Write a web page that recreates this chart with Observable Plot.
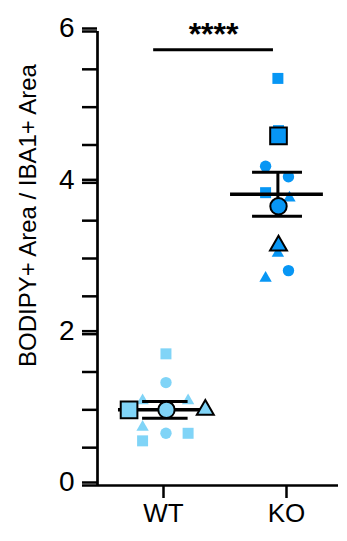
<!DOCTYPE html>
<html>
<head>
<meta charset="utf-8">
<script src="https://cdn.jsdelivr.net/npm/d3@7"></script>
<script src="https://cdn.jsdelivr.net/npm/@observablehq/plot@0.6"></script>
<style>
  html, body { margin: 0; padding: 0; background: #fff; }
  #chart svg { display: block; }
</style>
</head>
<body>
<div id="chart"></div>
<script>
// ---- data ----
const groups = ["WT", "KO"];
const yLabel = "BODIPY+ Area / IBA1+ Area";
const yMajorTicks = [0, 2, 4, 6];
const yMinorTicks = [0, 0.5, 1, 1.5, 2, 2.5, 3, 3.5, 4, 4.5, 5, 5.5, 6];

// individual (technical) replicates
const repGroup  = ["WT","WT","WT","WT","WT","WT","WT","WT",
                   "KO","KO","KO","KO","KO","KO","KO","KO","KO"];
const repShape  = ["square","circle","triangle","triangle","triangle","square","circle","square",
                   "square","square","circle","circle","square","triangle","triangle","circle","triangle"];
const repValue  = [1.74, 1.36, 1.12, 1.12, 0.77, 0.59, 0.69, 0.69,
                   5.38, 4.69, 4.22, 4.08, 3.87, 3.80, 3.07, 2.84, 2.74];
const repJitter = [0.02, 0.02, -0.17, 0.20, -0.17, -0.17, 0.02, 0.20,
                   -0.07, -0.065, -0.17, 0.016, -0.17, 0.024, -0.07, 0.016, -0.17];

// per-animal means
const meanGroup  = ["WT","WT","WT","KO","KO","KO"];
const meanShape  = ["square","circle","triangle","square","circle","triangle"];
const meanValue  = [1.0, 1.0, 1.0, 4.62, 3.69, 3.17];
const meanJitter = [-0.28, 0.024, 0.34, -0.065, -0.065, -0.065];

// group mean ± SEM
const groupMean = [1.0, 3.85];
const groupSEM  = [0.11, 0.29];
const meanLineExtent = [[-0.366, 0.382], [-0.455, 0.30]];
const capExtent      = [[-0.17, 0.20], [-0.276, 0.13]];
const stemJitter     = [0.024, -0.07];

// significance
const sigLabel = "****";
const sigValue = 5.76;
const sigFrom = ["WT", -0.08];
const sigTo   = ["KO", -0.106];

const colors = {WT: "#80d4f7", KO: "#0796f4"};

// ---- build tables ----
const gi = g => groups.indexOf(g);
const reps = repValue.map((v, i) => ({group: repGroup[i], shape: repShape[i], value: v, x: gi(repGroup[i]) + repJitter[i]}));
const means = meanValue.map((v, i) => ({group: meanGroup[i], shape: meanShape[i], value: v, x: gi(meanGroup[i]) + meanJitter[i]}));
const summary = groups.map((g, i) => ({
  group: g, mean: groupMean[i], lo: groupMean[i] - groupSEM[i], hi: groupMean[i] + groupSEM[i],
  lx1: i + meanLineExtent[i][0], lx2: i + meanLineExtent[i][1],
  cx1: i + capExtent[i][0], cx2: i + capExtent[i][1], sx: i + stemJitter[i]
}));
const sig = [{x1: gi(sigFrom[0]) + sigFrom[1], x2: gi(sigTo[0]) + sigTo[1], y: sigValue, label: sigLabel}];

const xDomain = [-0.5366, 1.4228];
const font = "'Liberation Sans', Arial, Helvetica, sans-serif";

const smallR = {square: 6.2, circle: 5.7, triangle: 4.6};
const bigR = {square: 9.4, circle: 8.2, triangle: 6.3};

const dotsFor = (data, rmap, big) => ["square", "circle", "triangle"].map(s =>
  Plot.dot(data.filter(d => d.shape === s), {
    x: "x", y: "value", symbol: () => s, r: rmap[s],
    fill: d => colors[d.group],
    stroke: big ? "black" : "none", strokeWidth: big ? 2 : 0
  })
);

const chart = Plot.plot({
  width: 347,
  height: 541,
  marginLeft: 97,
  marginRight: 9,
  marginTop: 31,
  marginBottom: 56,
  style: {fontFamily: font, color: "black", background: "white"},
  x: {type: "linear", domain: xDomain, axis: null},
  y: {domain: [0, 6], axis: null},
  symbol: {type: "identity"},
  color: {type: "identity"},
  marks: [
    // axes
    Plot.axisY({ticks: yMinorTicks, tickSize: 15, tickFormat: () => "", strokeWidth: 2.5}),
    Plot.axisY({ticks: yMajorTicks, tickSize: 15, tickPadding: 8, dy: -3, fontSize: 28, strokeWidth: 2.5, tickFormat: d => String(d)}),
    Plot.axisX({ticks: [0, 1], tickSize: 13, tickPadding: 5, fontSize: 26, strokeWidth: 2.5, tickFormat: i => groups[i]}),
    Plot.ruleX([xDomain[0]], {y1: 0, y2: 6, strokeWidth: 2.7}),
    Plot.ruleY([0], {x1: xDomain[0], x2: xDomain[1], strokeWidth: 2.7}),
    // technical replicates
    ...dotsFor(reps, smallR, false),
    // mean ± SEM
    Plot.ruleX(summary, {x: "sx", y1: "lo", y2: "hi", strokeWidth: 3}),
    Plot.ruleY(summary, {y: "hi", x1: "cx1", x2: "cx2", strokeWidth: 3}),
    Plot.ruleY(summary, {y: "lo", x1: "cx1", x2: "cx2", strokeWidth: 3}),
    Plot.ruleY(summary, {y: "mean", x1: "lx1", x2: "lx2", strokeWidth: 3.5}),
    // per-animal means
    ...dotsFor(means, bigR, true),
    // significance
    Plot.ruleY(sig, {y: "y", x1: "x1", x2: "x2", strokeWidth: 3}),
    Plot.text(sig, {x: d => (d.x1 + d.x2) / 2, y: "y", text: "label", dy: -15, fontSize: 32, fontWeight: "bold"}),
    // y label
    Plot.text([yLabel], {frameAnchor: "left", textAnchor: "middle", rotate: -90, dx: -69, dy: -43, fontSize: 24})
  ]
});
document.getElementById("chart").append(chart);
</script>
</body>
</html>
